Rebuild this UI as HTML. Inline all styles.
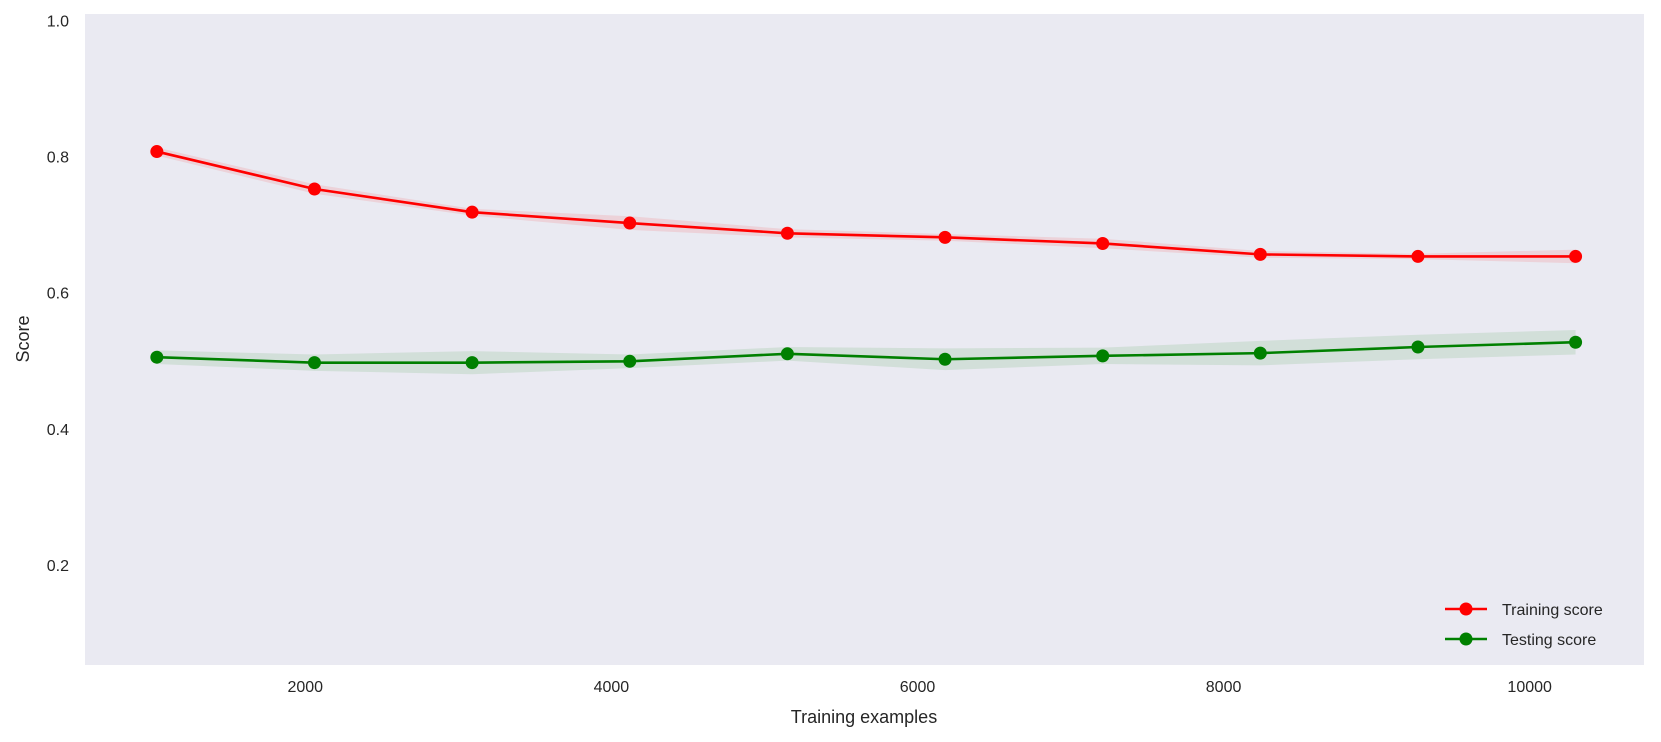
<!DOCTYPE html>
<html><head><meta charset="utf-8"><style>
html,body{margin:0;padding:0;background:#fff;}
svg{display:block;font-family:"Liberation Sans","DejaVu Sans",sans-serif;}
</style></head><body>
<svg id="chart" width="1661" height="742" viewBox="0 0 1661 742">
<rect x="85" y="14" width="1559" height="651" fill="#eaeaf2"/>
<g id="bands"></g><g id="lines"></g><g id="ticks"></g>
<text x="864" y="723" text-anchor="middle" font-size="18" fill="#262626">Training examples</text>
<text transform="translate(29,339) rotate(-90)" text-anchor="middle" font-size="18" fill="#262626">Score</text>
<g>
<g>
<line x1="1445" y1="609" x2="1487" y2="609" stroke="#ff0000" stroke-width="2.6"/><circle cx="1466" cy="609" r="6.5" fill="#ff0000"/>
<text x="1502" y="615" font-size="16" fill="#262626">Training score</text></g>
<g>
<line x1="1445" y1="639" x2="1487" y2="639" stroke="#008000" stroke-width="2.6"/><circle cx="1466" cy="639" r="6.5" fill="#008000"/>
<text x="1502" y="645" font-size="16" fill="#262626">Testing score</text></g>
</g>
</svg>
<script>
const trainSizes=[1030,2060,3090,4120,5150,6180,7210,8240,9270,10300];
const trainMean=[0.808,0.753,0.719,0.703,0.688,0.682,0.673,0.657,0.654,0.654];
const trainStd=[0.006,0.007,0.005,0.010,0.006,0.005,0.007,0.005,0.004,0.010];
const testMean=[0.506,0.498,0.498,0.500,0.511,0.503,0.508,0.512,0.521,0.528];
const testStd=[0.010,0.012,0.017,0.010,0.010,0.016,0.012,0.018,0.018,0.018];
const xTicks=[2000,4000,6000,8000,10000];
const yTicks=[0.2,0.4,0.6,0.8,1.0];
const X0=560.6,X1=10747,Y0=0.054,Y1=1.01;
const px0=85,px1=1644,py0=665,py1=14;
function sx(v){return px0+(v-X0)/(X1-X0)*(px1-px0);}
function sy(v){return py0+(v-Y0)/(Y1-Y0)*(py1-py0);}
const NS="http://www.w3.org/2000/svg";
function mk(t,a,p){const e=document.createElementNS(NS,t);for(const k in a)e.setAttribute(k,a[k]);p.appendChild(e);return e;}
const bands=document.getElementById('bands'),lines=document.getElementById('lines'),ticks=document.getElementById('ticks');
function series(mean,std,color,bandColor,name){
  let up=trainSizes.map((x,i)=>sx(x)+','+sy(mean[i]+std[i]));
  let dn=trainSizes.map((x,i)=>sx(x)+','+sy(mean[i]-std[i])).reverse();
  const b=mk('polygon',{points:up.concat(dn).join(' '),fill:bandColor},bands);
  
  
  const l=mk('polyline',{points:trainSizes.map((x,i)=>sx(x)+','+sy(mean[i])).join(' '),fill:'none',stroke:color,'stroke-width':2.6},lines);
  
  
  trainSizes.forEach((x,i)=>{
    const c=mk('circle',{cx:sx(x),cy:sy(mean[i]),r:6.5,fill:color},lines);
    
    
  });
}
series(trainMean,trainStd,'#ff0000','rgba(255,0,0,0.1)','training-score');
series(testMean,testStd,'#008000','rgba(0,128,0,0.1)','testing-score');
xTicks.forEach(v=>{
  const t=mk('text',{x:sx(v),y:692,'text-anchor':'middle','font-size':16,fill:'#262626'},ticks);
  t.textContent=v;
  
  
});
yTicks.forEach(v=>{
  const t=mk('text',{x:69,y:sy(v)+5.5,'text-anchor':'end','font-size':16,fill:'#262626'},ticks);
  t.textContent=v.toFixed(1);
  
  
});
</script>
</body></html>
